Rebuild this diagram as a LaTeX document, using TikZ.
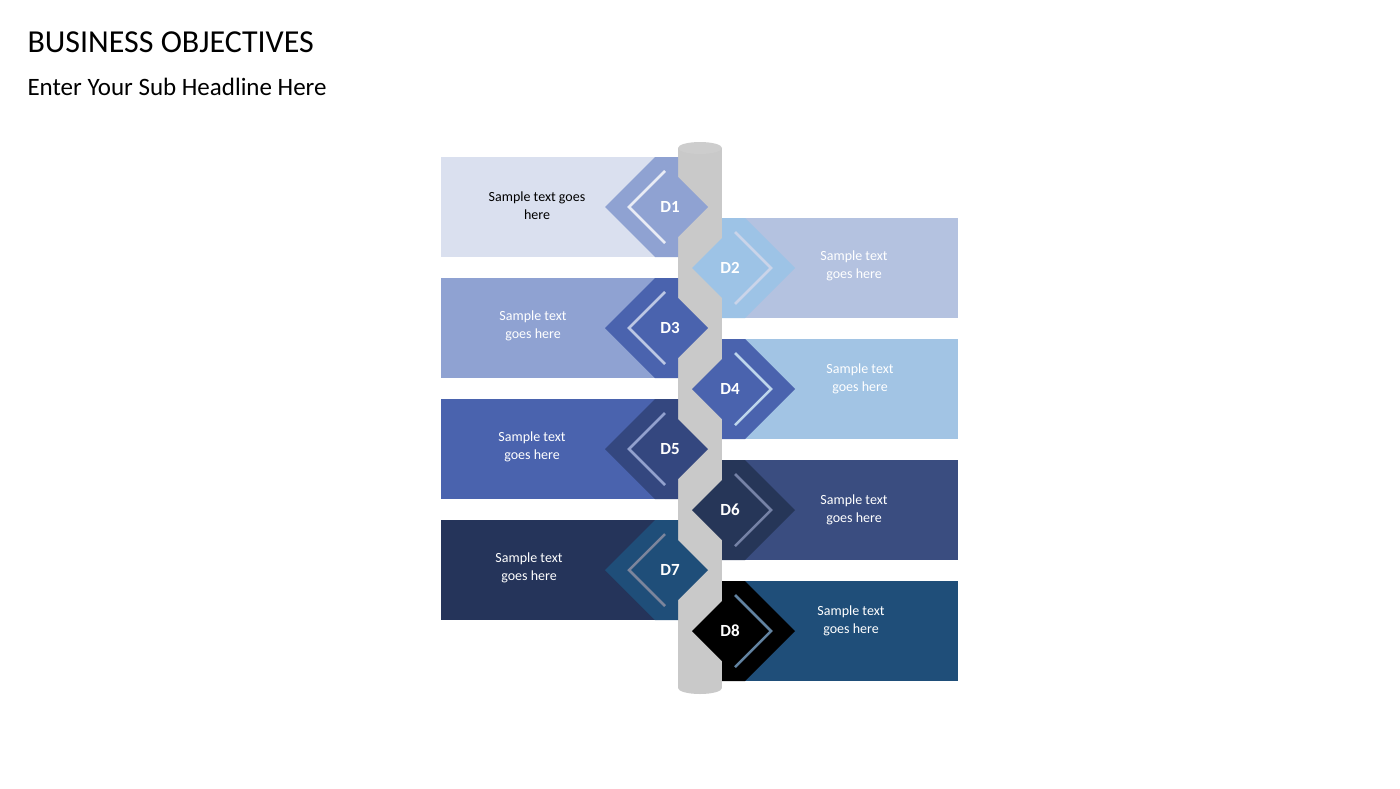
\documentclass[tikz,border=0pt]{standalone}
\usepackage{fontspec}
\setmainfont{Carlito}
\definecolor{r1}{HTML}{DAE0EF}\definecolor{d1}{HTML}{8FA2D2}
\definecolor{r2}{HTML}{B4C2E0}\definecolor{d2}{HTML}{9DC3E6}
\definecolor{r3}{HTML}{8FA2D2}\definecolor{d3}{HTML}{4A63AE}
\definecolor{r4}{HTML}{A2C4E4}\definecolor{d4}{HTML}{4A63AE}
\definecolor{r5}{HTML}{4A63AE}\definecolor{d5}{HTML}{34477F}
\definecolor{r6}{HTML}{3A4D80}\definecolor{d6}{HTML}{263658}
\definecolor{r7}{HTML}{25345A}\definecolor{d7}{HTML}{1F4E79}
\definecolor{r8}{HTML}{1F4E79}\definecolor{d8}{HTML}{000000}
\definecolor{pole}{HTML}{C9C9C9}
\tikzset{
 lbl/.style={font=\fontsize{17}{20}\selectfont\bfseries, text=white},
 body/.style={font=\fontsize{14}{18}\selectfont, align=center, text=white},
}
\begin{document}
\begin{tikzpicture}[x=1pt,y=-1pt]
\useasboundingbox (0,0) rectangle (1400,788);
\fill[white] (0,0) rectangle (1400,788);
\node[anchor=west,font=\fontsize{32}{36}\selectfont] (title) at (24,42) {BUSINESS OBJECTIVES};
\node[anchor=west,font=\fontsize{25}{30}\selectfont] (sub) at (24,87) {Enter Your Sub Headline Here};
% pole
\fill[pole] (678,148) rectangle (722,688);
\fill[pole] (700,688) ellipse (22 and 6);
\fill[pole!85!black!60!white] (700,148) ellipse (22 and 6);
% left rows
\foreach \i/\y in {1/207,3/328,5/449,7/570}{
  \fill[r\i] (441,\y-50) rectangle (678,\y+50);
}
\foreach \i/\y in {2/268,4/389,6/510,8/631}{
  \fill[r\i] (722,\y-50) rectangle (958,\y+50);
}
\foreach \i/\y in {1/207,3/328,5/449,7/570}{
  \fill[d\i] (605,\y) -- (655,\y-50) -- (678,\y-50) -- (678,\y-30) -- (708,\y) -- (678,\y+30) -- (678,\y+50) -- (655,\y+50) -- cycle;
  \draw[r\i!60!white, line width=2.5pt] (665,\y-36) -- (629,\y) -- (665,\y+36);
}
\foreach \i/\y in {2/268,4/389,6/510,8/631}{
  \fill[d\i] (795,\y) -- (745,\y-50) -- (722,\y-50) -- (722,\y-30) -- (692,\y) -- (722,\y+30) -- (722,\y+50) -- (745,\y+50) -- cycle;
  \draw[r\i!70!white, line width=2.5pt] (735,\y-36) -- (771,\y) -- (735,\y+36);
}
\node[lbl] (D1) at (670,207) {D1};
\node[lbl] (D2) at (730,268) {D2};
\node[lbl] (D3) at (670,328) {D3};
\node[lbl] (D4) at (730,389) {D4};
\node[lbl] (D5) at (670,449) {D5};
\node[lbl] (D6) at (730,510) {D6};
\node[lbl] (D7) at (670,570) {D7};
\node[lbl] (D8) at (730,631) {D8};
\node[body,text=black] (t1) at (537,206) {Sample text goes\\here};
\node[body] (t2) at (854,266) {Sample text\\goes here};
\node[body] (t3) at (533,326) {Sample text\\goes here};
\node[body] (t4) at (860,379) {Sample text\\goes here};
\node[body] (t5) at (532,447) {Sample text\\goes here};
\node[body] (t6) at (854,510) {Sample text\\goes here};
\node[body] (t7) at (529,568) {Sample text\\goes here};
\node[body] (t8) at (851,621) {Sample text\\goes here};
\end{tikzpicture}
\end{document}
